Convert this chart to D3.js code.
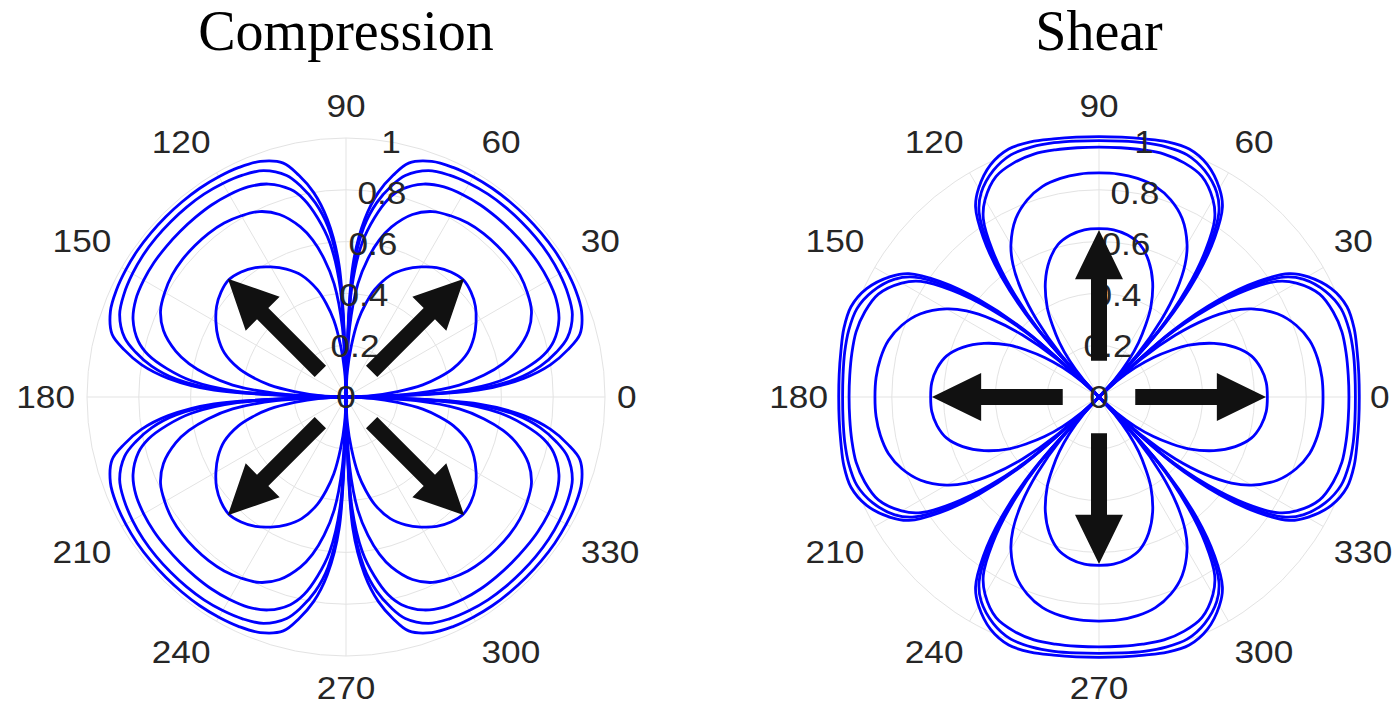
<!DOCTYPE html>
<html>
<head>
<meta charset="utf-8">
<script src="https://cdn.jsdelivr.net/npm/d3@7"></script>
<style>
  html, body { margin: 0; padding: 0; background: #ffffff; }
  svg { display: block; }
</style>
</head>
<body>
<script>
// Angular grid and radial ticks shared by both panels
const thetaTicks = [0, 30, 60, 90, 120, 150, 180, 210, 240, 270, 300, 330];
const rTicks = [0, 0.2, 0.4, 0.6, 0.8, 1];

// Angle (deg) measured from a lobe's zero line towards its centre
const lobeOffsets = [0, 3, 6, 9, 12, 15, 20, 25, 30, 35, 40, 45];

// Compression: lobes centred on the diagonals, five amplitude curves
const compressionLobes = [45, 135, 225, 315];
const compressionCurves = [
  [0, 0.10, 0.20, 0.30, 0.37, 0.43, 0.50, 0.545, 0.58, 0.61, 0.63, 0.64],
  [0, 0.27, 0.44, 0.54, 0.62, 0.68, 0.75, 0.79, 0.808, 0.82, 0.825, 0.826],
  [0, 0.42, 0.60, 0.70, 0.78, 0.83, 0.875, 0.895, 0.902, 0.905, 0.905, 0.905],
  [0, 0.47, 0.66, 0.76, 0.83, 0.885, 0.93, 0.945, 0.952, 0.956, 0.957, 0.957],
  [0, 0.51, 0.69, 0.80, 0.875, 0.935, 0.968, 0.978, 0.982, 0.984, 0.984, 0.984]
];

// Shear: lobes centred on the axes
const shearLobes = [0, 90, 180, 270];
const shearCurves = [
  [0, 0.09, 0.18, 0.26, 0.33, 0.40, 0.49, 0.56, 0.61, 0.635, 0.648, 0.65],
  [0, 0.22, 0.38, 0.51, 0.61, 0.68, 0.76, 0.81, 0.842, 0.857, 0.864, 0.865],
  [0, 0.34, 0.54, 0.70, 0.82, 0.88, 0.94, 0.962, 0.971, 0.969, 0.966, 0.965],
  [0, 0.36, 0.57, 0.73, 0.85, 0.91, 0.965, 0.995, 1.0, 0.997, 0.992, 0.99],
  [0, 0.38, 0.60, 0.76, 0.875, 0.93, 0.99, 1.019, 1.02, 1.012, 1.007, 1.005]
];

// Load-direction arrows: angle, tail radius, head-base radius, tip radius
const compressionArrows = [45, 135, 225, 315];
const shearArrows = [0, 90, 180, 270];
const arrowTail = 0.14;
const arrowHeadBase = 0.455;
const arrowTip = 0.645;

const W = 1397, H = 705;
const R = 259;
const svg = d3.select("body").append("svg")
  .attr("width", W).attr("height", H)
  .attr("viewBox", `0 0 ${W} ${H}`);
svg.append("rect").attr("width", W).attr("height", H).attr("fill", "#fff");

const rScale = d3.scaleLinear().domain([0, 1]).range([0, R]);
// math angle (deg, CCW from east) -> d3 radial angle (rad, CW from north)
const aScale = d3.scaleLinear().domain([0, 360]).range([Math.PI / 2, Math.PI / 2 - 2 * Math.PI]);

// one lobe: out from the centre along one zero line, back along the other
function lobePoints(curve, c) {
  const pts = [];
  lobeOffsets.forEach((d, i) => pts.push([c - 45 + d, curve[i]]));
  for (let i = lobeOffsets.length - 2; i >= 0; i--) pts.push([c + 45 - lobeOffsets[i], curve[i]]);
  return pts;
}

function drawPanel(cx, title, curves, lobes, arrows) {
  const g = svg.append("g").attr("transform", `translate(${cx},397)`);

  // grid
  const grid = g.append("g").attr("fill", "none").attr("stroke", "#e3e3e3").attr("stroke-width", 1);
  rTicks.filter(t => t > 0).forEach(t => grid.append("circle").attr("r", rScale(t)));
  thetaTicks.forEach(t => {
    const a = t * Math.PI / 180;
    grid.append("line").attr("x1", 0).attr("y1", 0)
      .attr("x2", rScale(1) * Math.cos(a)).attr("y2", -rScale(1) * Math.sin(a));
  });

  // curves
  const line = d3.lineRadial()
    .angle(d => aScale(d[0]))
    .radius(d => rScale(d[1]))
    .curve(d3.curveCatmullRom.alpha(0.5));
  const segs = [];
  curves.forEach(c => lobes.forEach(l => segs.push(lobePoints(c, l))));
  g.append("g").selectAll("path").data(segs).join("path")
    .attr("d", line)
    .attr("fill", "none").attr("stroke", "#0000ff")
    .attr("stroke-width", 2.8).attr("stroke-linejoin", "round").attr("stroke-linecap", "round");

  // angular tick labels
  const tl = g.append("g").attr("font-family", "'Liberation Sans', Arial, sans-serif")
    .attr("font-size", 32).attr("fill", "#262626");
  const sgn = v => (Math.abs(v) < 1e-6 ? 0 : Math.sign(v));
  thetaTicks.forEach(t => {
    const a = t * Math.PI / 180;
    const txt = tl.append("text").text(t).attr("text-anchor", "middle").attr("dominant-baseline", "central");
    const w = txt.node().getComputedTextLength() * 1.1;
    const r0 = rScale(1) + 12;
    const x = r0 * Math.cos(a) + sgn(Math.cos(a)) * w / 2;
    const y = -r0 * Math.sin(a) - sgn(Math.sin(a)) * 20;
    txt.attr("transform", `translate(${x},${y}) scale(1.1,1)`);
  });

  // radial tick labels along 80 deg
  const ra = 80 * Math.PI / 180;
  rTicks.forEach(t => {
    tl.append("text").text(t)
      .attr("text-anchor", "middle").attr("dominant-baseline", "central")
      .attr("transform", `translate(${rScale(t) * Math.cos(ra)},${-rScale(t) * Math.sin(ra)}) scale(1.1,1)`);
  });

  // arrows
  const poly = d3.line();
  g.append("g").selectAll("path").data(arrows).join("path")
    .attr("d", t => {
      const a = t * Math.PI / 180;
      const ux = Math.cos(a), uy = -Math.sin(a);
      const px = -uy, py = ux;
      const p = (r, s) => [rScale(r) * ux + s * px, rScale(r) * uy + s * py];
      return poly([p(arrowTail, -8), p(arrowHeadBase, -8), p(arrowHeadBase, -24), p(arrowTip, 0),
                   p(arrowHeadBase, 24), p(arrowHeadBase, 8), p(arrowTail, 8)]) + "Z";
    })
    .attr("fill", "#111111");

  // title
  svg.append("text").text(title)
    .attr("x", cx).attr("y", 50).attr("text-anchor", "middle")
    .attr("font-family", "'Liberation Serif', 'Times New Roman', serif")
    .attr("font-size", 56).attr("fill", "#000");
}

drawPanel(346, "Compression", compressionCurves, compressionLobes, compressionArrows);
drawPanel(1099, "Shear", shearCurves, shearLobes, shearArrows);
</script>
</body>
</html>
